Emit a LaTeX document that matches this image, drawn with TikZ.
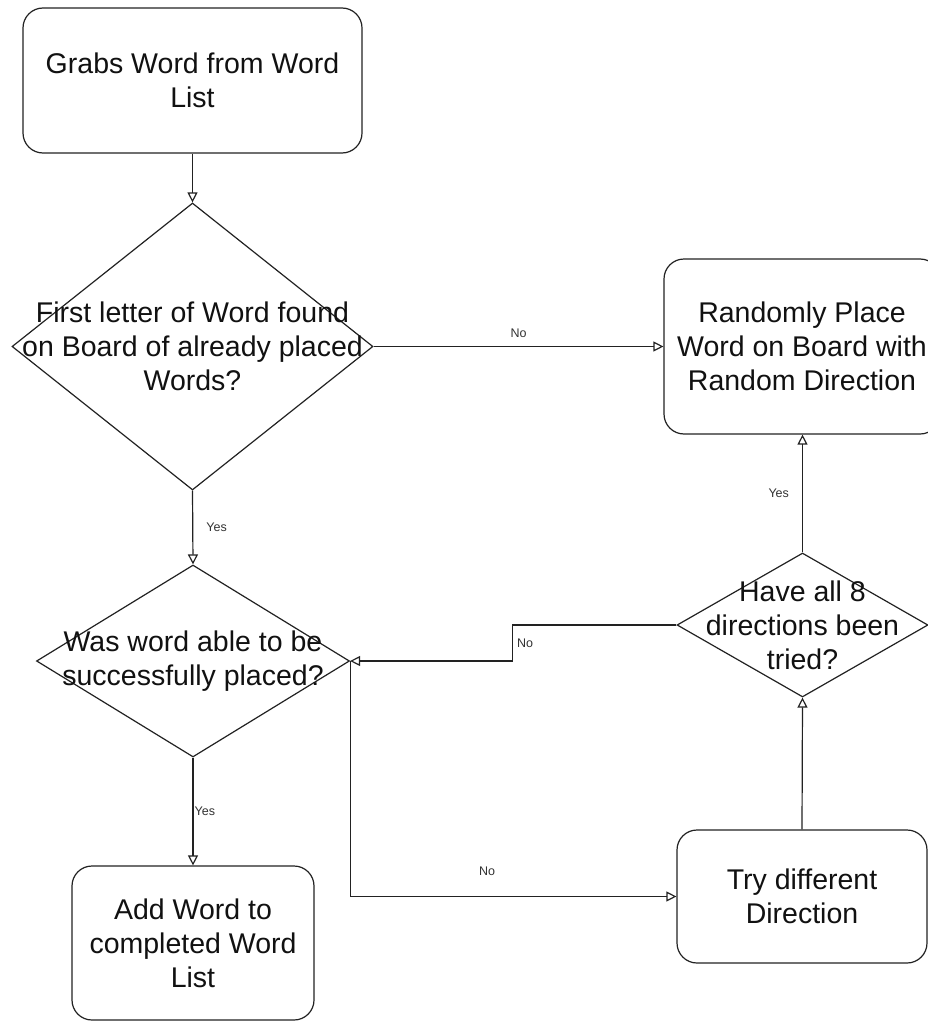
\documentclass[tikz,border=0pt]{standalone}
\usepackage{fontspec}
\setmainfont{Liberation Sans}
\usetikzlibrary{shapes.geometric,arrows.meta}
\newcommand\bigfnt{\fontsize{28.5}{34}\selectfont}
\newcommand\smallfnt{\fontsize{12.5}{15}\selectfont}
\definecolor{linecol}{HTML}{222222}
\definecolor{txtcol}{HTML}{111111}
\definecolor{lblcol}{HTML}{333333}
\begin{document}
\begin{tikzpicture}[x=1pt,y=-1pt,
  box/.style={draw=linecol, line width=1.2pt, rounded corners=20pt, inner sep=0pt,
              align=center, font=\bigfnt, text=txtcol},
  dia/.style={draw=linecol, line width=1.2pt, diamond, inner sep=0pt},
  diatxt/.style={align=center, font=\bigfnt, text=txtcol, inner sep=0pt},
  conn/.style={draw=linecol, line width=1.2pt, -{Triangle[open, length=10pt, width=10pt]}},
  lbl/.style={font=\smallfnt, text=lblcol, inner sep=0pt}
]
\useasboundingbox (0,0) rectangle (928,1022);
\fill[white] (0,0) rectangle (928,1022);
\begin{scope}
\clip (0,0) rectangle (928,1022);
% boxes
\node[box, minimum width=339pt, minimum height=145pt] (r1) at (192.5,80.5)
  {Grabs Word from Word\\List};
\node[box, minimum width=276pt, minimum height=175pt] (r2) at (802,346.5)
  {Randomly Place\\Word on Board with\\Random Direction};
\node[box, minimum width=242pt, minimum height=154pt] (r3) at (193,943)
  {Add Word to\\completed Word\\List};
\node[box, minimum width=250pt, minimum height=133pt] (r4) at (802,896.5)
  {Try different\\Direction};
% diamonds
\node[dia, minimum width=361pt, minimum height=287pt] (d1) at (192.5,346.5) {};
\node[diatxt] (t1) at (d1.center) {First letter of Word found\\on Board of already placed\\Words?};
\node[dia, minimum width=313pt, minimum height=192pt] (d2) at (193,661) {};
\node[diatxt] (t2) at (d2.center) {Was word able to be\\successfully placed?};
\node[dia, minimum width=251pt, minimum height=144pt] (d3) at (802.5,625) {};
\node[diatxt] (t3) at (d3.center) {Have all 8\\directions been\\tried?};
% connectors
\draw[conn] (r1.south) -- (d1.north);
\draw[conn] (d1.east) -- node[lbl, anchor=south, yshift=8pt] (l1) {No} (r2.west);
\draw[conn] (d1.south) -- node[lbl, anchor=west, xshift=13pt] (l2) {Yes} (d2.north);
\draw[conn] (d2.south) -- node[lbl, anchor=west, xshift=1pt] (l3) {Yes} (r3.north);
\draw[conn] (d2.east) |- node[lbl, pos=0.71, anchor=south, yshift=20pt] (l4) {No} (r4.west);
\draw[conn] (r4.north) -- (d3.south);
\draw[conn] (d3.north) -- node[lbl, anchor=east, xshift=-13pt] (l5) {Yes} (d3.north |- r2.south);
\draw[conn] (d3.west) -- ++(-164,0) coordinate (s1) |- node[lbl, pos=0.25, anchor=west, xshift=4pt] (l6) {No} (d2.east);
\end{scope}
\end{tikzpicture}
\end{document}
